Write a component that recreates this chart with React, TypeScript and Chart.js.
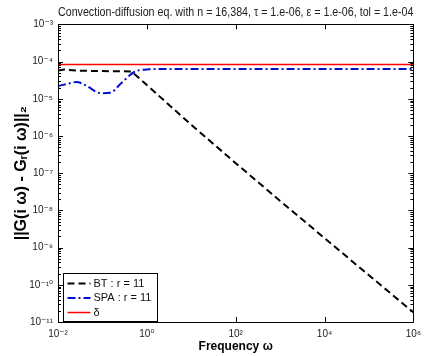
import React, { useEffect, useRef } from "react";
import { Chart, registerables } from "chart.js";

Chart.register(...registerables);

const TITLE = "Convection-diffusion eq. with n = 16,384, τ = 1.e-06, ε = 1.e-06, tol = 1.e-04";
const X_LABEL = "Frequency ω";
const Y_LABEL = "||G(i ω) - Gᵣ(i ω)||₂";

const btLabel = "BT : r = 11";
const spaLabel = "SPA : r = 11";
const deltaLabel = "δ";

const btFreq = [0.01, 0.014, 0.03, 0.1, 0.45, 1, 10, 100, 1e3, 1e4, 1e5, 1e6];
const btErr = [5.8e-5, 6.1e-5, 5.7e-5, 5.55e-5, 5.45e-5, 2.35e-5, 2.0e-6, 1.86e-7, 1.8e-8, 1.8e-9, 1.8e-10, 1.82e-11];

const spaFreq = [0.01, 0.018, 0.026, 0.045, 0.075, 0.1, 0.15, 0.26, 0.52, 1.1, 3, 1e6];
const spaErr = [2.2e-5, 2.6e-5, 2.82e-5, 2.2e-5, 1.5e-5, 1.42e-5, 1.45e-5, 2.57e-5, 5.25e-5, 6.2e-5, 6.35e-5, 6.35e-5];

const deltaFreq = [0.01, 1e6];
const deltaVal = [8.3e-5, 8.3e-5];

const xTickValues = [1e-2, 1e0, 1e2, 1e4, 1e6];
const yTickValues = [1e-11, 1e-10, 1e-9, 1e-8, 1e-7, 1e-6, 1e-5, 1e-4, 1e-3];

const NARROW = "'Liberation Sans Narrow', 'Arial Narrow', 'Liberation Sans', Arial, sans-serif";
const SANS = "'Liberation Sans', 'DejaVu Sans', Arial, sans-serif";

const SUP: Record<string, string> = {
  "-": "⁻", "0": "⁰", "1": "¹", "2": "²", "3": "³", "4": "⁴",
  "5": "⁵", "6": "⁶", "7": "⁷", "8": "⁸", "9": "⁹",
};
const expOf = (v: number) => Math.round(Math.log10(v));
const pow10Label = (v: number) =>
  "10" + String(expOf(v)).split("").map((c) => SUP[c] ?? c).join("");

const toPoints = (xs: number[], ys: number[]) => xs.map((x, i) => ({ x, y: ys[i] }));

const frameTicks = {
  id: "frameTicks",
  afterDatasetsDraw(chart: any) {
    const { ctx, chartArea, scales } = chart;
    const { left, right, top, bottom } = chartArea;
    const xs = scales.x;
    const ys = scales.y;
    ctx.save();
    ctx.strokeStyle = "#000";
    ctx.lineWidth = 1;
    ctx.beginPath();
    ctx.rect(Math.round(left) + 0.5, Math.round(top) + 0.5, Math.round(right - left), Math.round(bottom - top));
    ctx.stroke();
    ctx.beginPath();
    for (let i = 0; i < yTickValues.length; i++) {
      const v = yTickValues[i];
      const py = Math.round(ys.getPixelForValue(v)) + 0.5;
      ctx.moveTo(left, py); ctx.lineTo(left + 5, py);
      ctx.moveTo(right, py); ctx.lineTo(right - 5, py);
      if (i < yTickValues.length - 1) {
        for (let k = 2; k <= 9; k++) {
          const pm = Math.round(ys.getPixelForValue(v * k)) + 0.5;
          ctx.moveTo(left, pm); ctx.lineTo(left + 3, pm);
          ctx.moveTo(right, pm); ctx.lineTo(right - 3, pm);
        }
      }
    }
    for (const v of xTickValues) {
      const px = Math.round(xs.getPixelForValue(v)) + 0.5;
      ctx.moveTo(px, bottom); ctx.lineTo(px, bottom - 5);
      ctx.moveTo(px, top); ctx.lineTo(px, top + 5);
    }
    ctx.stroke();
    ctx.restore();
  },
};

const insideLegend = {
  id: "insideLegend",
  afterDraw(chart: any) {
    const { ctx, chartArea } = chart;
    const { left, bottom } = chartArea;
    const sets = chart.data.datasets;
    ctx.save();
    ctx.font = "11px 'Liberation Sans', Arial, sans-serif";
    let maxW = 0;
    for (const d of sets) maxW = Math.max(maxW, ctx.measureText(d.label).width);
    const bx = Math.round(left) + 5.5;
    const bh = 48;
    const by = Math.round(bottom) - bh - 0.5;
    const bw = Math.round(30 + maxW + 6);
    ctx.fillStyle = "#fff";
    ctx.fillRect(bx, by, bw, bh);
    ctx.strokeStyle = "#000";
    ctx.lineWidth = 1;
    ctx.strokeRect(bx, by, bw, bh);
    sets.forEach((d: any, i: number) => {
      const cy = by + 10 + i * 14.5;
      ctx.beginPath();
      ctx.strokeStyle = d.borderColor;
      ctx.lineWidth = d.borderWidth;
      ctx.setLineDash(d.borderDash || []);
      ctx.moveTo(bx + 4, cy);
      ctx.lineTo(bx + 27, cy);
      ctx.stroke();
      ctx.setLineDash([]);
      ctx.fillStyle = "#111";
      ctx.textBaseline = "middle";
      ctx.textAlign = "left";
      ctx.fillText(d.label, bx + 30, cy);
    });
    ctx.restore();
  },
};

export default function App() {
  const ref = useRef<HTMLCanvasElement>(null);
  useEffect(() => {
    const tickFont = { family: SANS, size: 10 };
    const chart = new Chart(ref.current as HTMLCanvasElement, {
      type: "line",
      data: {
        datasets: [
          {
            label: btLabel,
            data: toPoints(btFreq, btErr),
            borderColor: "#000000",
            borderWidth: 2,
            borderDash: [7, 4],
            pointRadius: 0,
            tension: 0,
          },
          {
            label: spaLabel,
            data: toPoints(spaFreq, spaErr),
            borderColor: "#0010d0",
            borderWidth: 2,
            borderDash: [8, 3, 2, 3],
            pointRadius: 0,
            cubicInterpolationMode: "monotone",
          },
          {
            label: deltaLabel,
            data: toPoints(deltaFreq, deltaVal),
            borderColor: "#ff0000",
            borderWidth: 1.5,
            pointRadius: 0,
            tension: 0,
          },
        ],
      },
      options: {
        responsive: false,
        animation: false,
        layout: { padding: { left: 0, right: 10, top: 0, bottom: 0 } },
        plugins: {
          legend: { display: false },
          tooltip: { enabled: false },
          title: {
            display: true,
            text: TITLE,
            fullSize: false,
            color: "#222",
            font: { family: NARROW, size: 12, weight: "normal" },
            padding: { top: 5, bottom: 5 },
          },
        },
        scales: {
          x: {
            type: "logarithmic",
            min: 1e-2,
            max: 1e6,
            grid: { display: false, drawTicks: false },
            border: { display: false },
            afterBuildTicks: (scale: any) => {
              scale.ticks = xTickValues.map((value) => ({ value }));
            },
            afterFit: (scale: any) => {
              scale.height = 34;
            },
            ticks: {
              autoSkip: false,
              maxRotation: 0,
              padding: 6,
              color: "#222",
              font: tickFont,
              callback: (v: any) => pow10Label(Number(v)),
            },
            title: {
              display: true,
              text: X_LABEL,
              color: "#000",
              font: { family: SANS, size: 12, weight: "bold" },
              padding: { top: 0, bottom: 2 },
            },
          },
          y: {
            type: "logarithmic",
            min: 1e-11,
            max: 1e-3,
            grid: { display: false, drawTicks: false },
            border: { display: false },
            afterBuildTicks: (scale: any) => {
              scale.ticks = yTickValues.map((value) => ({ value }));
            },
            afterFit: (scale: any) => {
              scale.width = 58;
            },
            ticks: {
              autoSkip: false,
              padding: 5,
              color: "#222",
              font: tickFont,
              callback: (v: any) => pow10Label(Number(v)),
            },
            title: {
              display: true,
              text: Y_LABEL,
              color: "#000",
              font: { family: SANS, size: 16, weight: "bold" },
              padding: { top: 12, bottom: 0 },
            },
          },
        },
      },
      plugins: [frameTicks, insideLegend],
    } as any);
    return () => chart.destroy();
  }, []);
  return (
    <div style={{ position: "absolute", left: 0, top: 0, width: 427, height: 356, background: "#fff" }}>
      <canvas ref={ref} width={427} height={356} style={{ display: "block" }} />
    </div>
  );
}
